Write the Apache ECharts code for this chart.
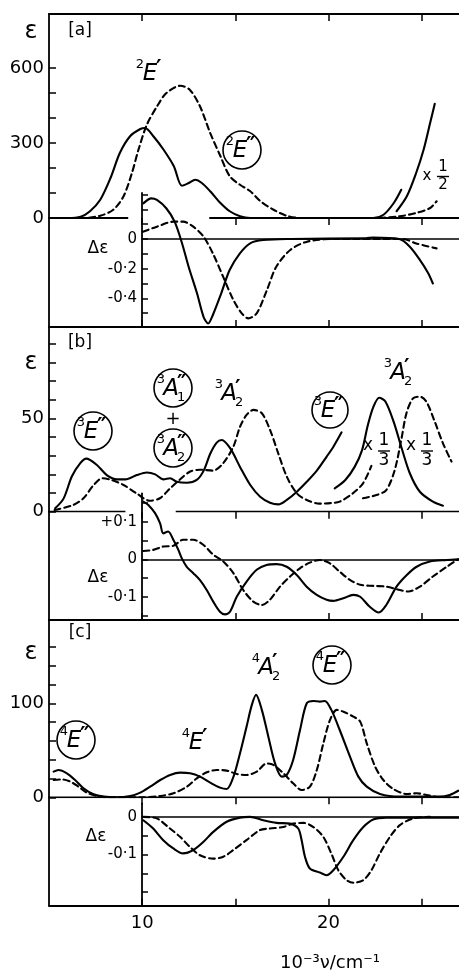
<!DOCTYPE html>
<html><head><meta charset="utf-8">
<script src="https://cdn.jsdelivr.net/npm/echarts@6/dist/echarts.min.js"></script>
<style>html,body{margin:0;padding:0;background:#fff}#c{width:459px;height:975px}</style>
</head><body><div id="c"></div>
<script>
// ---------- DATA (x in 10^3 cm^-1) ----------
const xTicks = [10, 15, 20, 25];
const xLabels = [10, 20];

// Panel a
const aEpsTicks = [0, 100, 200, 300, 400, 500, 600];
const aEpsLabels = [0, 300, 600];
const aDeTicks = [0.3, 0.2, 0.1, 0, -0.1, -0.2, -0.3, -0.4, -0.5];
const aDeLabels = [0, -0.2, -0.4];
const aBaseline = [[5, 9.25], [13.6, 27]];
const aEpsSolid = [[5,0],[6,0],[6.7,5],[7.2,27],[7.75,73],[8.3,160],[8.8,260],[9.35,327],[9.9,356],[10.15,360],[10.6,327],[11.15,273],[11.7,207],[12.13,129],[12.5,140],[12.85,153],[13.2,140],[13.65,107],[14.2,60],[14.7,27],[15.25,7],[15.8,0],[22.4,0],[22.95,13],[23.5,60],[23.9,113]];
const aEpsSolidHalf = [[23.65,27],[24.2,87],[24.7,180],[25.1,273],[25.45,380],[25.7,457]];
const aEpsDashed = [[5,0],[6.85,0],[7.75,9],[8.45,33],[9.0,87],[9.45,180],[9.8,273],[10.25,373],[10.8,447],[11.3,500],[12.05,529],[12.55,513],[13.1,447],[13.65,340],[14.2,247],[14.7,167],[15.25,133],[15.8,107],[16.35,67],[17.05,33],[17.75,9],[18.5,0],[22.4,0],[23.8,7],[24.7,20],[25.45,40],[25.8,67]];
const aDeSolid = [[10.07,0.24],[10.5,0.274],[10.8,0.263],[11.3,0.207],[11.75,0.117],[12.15,-0.03],[12.5,-0.187],[12.95,-0.366],[13.3,-0.524],[13.55,-0.569],[13.8,-0.512],[14.25,-0.366],[14.7,-0.209],[15.25,-0.097],[15.8,-0.029],[16.5,-0.007],[18,0],[22,0.005],[22.4,0.01],[23.8,0],[24.35,-0.05],[24.9,-0.14],[25.35,-0.23],[25.6,-0.3]];
const aDeDashed = [[10.05,0.049],[10.8,0.083],[11.7,0.117],[12.2,0.117],[12.75,0.083],[13.3,0.016],[13.8,-0.097],[14.35,-0.254],[14.9,-0.411],[15.35,-0.501],[15.7,-0.535],[16.15,-0.501],[16.7,-0.344],[17.2,-0.187],[17.95,-0.074],[18.85,-0.018],[20.25,0],[24,0],[24.7,-0.03],[25.8,-0.063]];

// Panel b
const bEpsTicks = [0, 10, 20, 30, 40, 50, 60, 70, 80, 90];
const bEpsLabels = [0, 50];
const bDeTicks = [0.15, 0.1, 0.05, 0, -0.05, -0.1, -0.15];
const bDeLabels = [0.1, 0, -0.1];
const bBaseline = [[5, 9.1], [11.8, 27]];
const bEpsSolid = [[5.33,1.8],[5.78,7],[6.23,19],[6.68,26],[7.0,28.4],[7.57,25],[8.1,19.6],[8.64,17.3],[9.1,17.3],[9.71,19.6],[10.25,21],[10.7,20],[11.14,17.3],[11.5,17.9],[11.86,16],[12.4,15.5],[12.93,17],[13.3,22],[13.65,31],[14.0,37],[14.27,38.4],[14.72,34],[15.25,24],[15.8,14.3],[16.33,8],[16.86,4.8],[17.31,3.9],[17.76,6.3],[18.3,10.7],[18.83,16],[19.37,22],[19.9,29.5],[20.26,34.8],[20.7,42.5]];
const bEpsSolidThird = [[20.33,12.5],[20.9,17],[21.4,24],[21.8,33],[22.1,46],[22.4,56],[22.72,61],[23.05,59],[23.5,48],[23.9,34.8],[24.36,20.6],[24.9,10.7],[25.6,5.4],[26.14,3.2]];
const bEpsDashed = [[5.3,0.9],[6.3,3.6],[6.85,7.2],[7.4,14.3],[7.85,17.9],[8.35,17],[9.0,14.3],[9.7,9.8],[10.4,5.9],[10.95,7.2],[11.5,12.5],[12.0,17],[12.55,21.4],[13.1,22.5],[13.8,22],[14.35,26],[14.9,35],[15.25,45.5],[15.6,51.8],[15.97,54.5],[16.42,52.7],[16.86,43.8],[17.31,31],[17.76,18.75],[18.3,9.8],[18.83,6.3],[19.5,4.3],[20.1,4.6],[20.6,5.4],[21.3,9.8],[21.85,15.2],[22.3,24.5]];
const bEpsDashedThird = [[21.85,7.2],[22.57,8.9],[23.1,11.6],[23.55,22.3],[23.9,38.4],[24.18,52.7],[24.53,60.7],[24.9,61.6],[25.25,58.9],[25.7,48.2],[26.14,36.6],[26.6,26.8]];
const bDeSolid = [[10.07,0.154],[10.34,0.145],[10.7,0.123],[10.97,0.096],[11.14,0.069],[11.4,0.074],[11.68,0.052],[11.95,0.025],[12.13,0.003],[12.4,-0.02],[12.75,-0.037],[13.1,-0.055],[13.47,-0.082],[13.82,-0.113],[14.18,-0.14],[14.45,-0.147],[14.72,-0.14],[15.08,-0.1],[15.6,-0.06],[16.15,-0.028],[16.68,-0.015],[17.22,-0.013],[17.76,-0.02],[18.3,-0.042],[18.83,-0.073],[19.37,-0.095],[19.9,-0.108],[20.26,-0.111],[20.8,-0.104],[21.33,-0.095],[21.7,-0.1],[22.2,-0.126],[22.7,-0.142],[23.1,-0.122],[23.65,-0.073],[24.2,-0.042],[24.73,-0.02],[25.44,-0.006],[26.34,-0.002],[26.96,0]];
const bDeDashed = [[10.07,0.022],[10.6,0.025],[11.14,0.034],[11.68,0.036],[12.2,0.052],[12.75,0.052],[13.3,0.038],[13.82,0.012],[14.36,-0.006],[14.9,-0.037],[15.43,-0.082],[15.97,-0.113],[16.42,-0.122],[16.86,-0.108],[17.4,-0.073],[17.94,-0.046],[18.47,-0.024],[19.0,-0.009],[19.54,-0.002],[20.08,-0.011],[20.6,-0.033],[21.15,-0.055],[21.7,-0.068],[22.4,-0.071],[23.1,-0.073],[23.83,-0.082],[24.28,-0.086],[24.9,-0.073],[25.6,-0.046],[26.34,-0.02],[26.96,0]];

// Panel c
const cEpsTicks = [0, 20, 40, 60, 80, 100, 120, 140, 160];
const cEpsLabels = [0, 100];
const cDeTicks = [0, -0.05, -0.1, -0.15, -0.2];
const cDeLabels = [0, -0.1];
const cBaseline = [[5, 27]];
const cEpsSolid = [[5.25,27.3],[5.51,29],[5.96,25.5],[6.4,18.4],[6.85,9.6],[7.39,3.2],[7.93,0.7],[8.64,0],[9.36,1.4],[9.9,5],[10.43,11.3],[10.97,18.4],[11.5,23.8],[12.04,26.2],[12.57,25.5],[13.1,22],[13.65,15.6],[14.18,10.3],[14.54,8.9],[14.9,22],[15.25,46.8],[15.6,75],[15.88,98],[16.11,108.9],[16.42,93],[16.77,64.5],[17.13,36],[17.49,22],[17.76,23.8],[18.1,39.7],[18.47,71.6],[18.83,100],[19.19,102.5],[19.54,101.8],[19.8,102.5],[20.15,93],[20.6,71.6],[21.15,43.3],[21.6,22],[22.05,11.3],[22.76,3.5],[23.83,0.7],[24.9,0.7],[25.97,0.7],[26.5,2.5],[26.96,7]];
const cEpsDashed = [[5.25,18.4],[5.7,19],[6.14,16.7],[6.59,11.3],[7.03,5],[7.57,1.4],[8.28,0],[9.9,0],[10.97,1.4],[11.68,4.3],[12.4,11.3],[12.93,20.2],[13.47,26.6],[14.0,29],[14.54,28.4],[15.08,24.8],[15.6,23.8],[16.15,27.3],[16.68,36],[17.04,34.4],[17.58,25.5],[18.1,14.9],[18.56,7.8],[19.0,11.3],[19.37,29],[19.72,57.4],[20.08,82.3],[20.44,93],[20.8,91],[21.33,85.8],[21.7,80.5],[22.05,57.4],[22.5,32.6],[22.94,18.4],[23.47,8.9],[24.2,3.5],[24.73,4.3],[25.26,2.5],[25.97,0],[26.96,0]];
const cDeSolid = [[10.07,-0.009],[10.6,-0.031],[11.14,-0.062],[11.68,-0.084],[12.2,-0.097],[12.75,-0.088],[13.3,-0.066],[13.82,-0.04],[14.54,-0.013],[15.25,-0.002],[15.8,0],[16.5,-0.009],[17.22,-0.016],[17.94,-0.018],[18.38,-0.031],[18.56,-0.062],[18.74,-0.106],[19.0,-0.137],[19.54,-0.148],[19.9,-0.155],[20.26,-0.142],[20.8,-0.106],[21.33,-0.062],[21.87,-0.027],[22.4,-0.007],[23.1,-0.002],[26.96,-0.002]];
const cDeDashed = [[10.07,0],[10.79,-0.004],[11.5,-0.031],[12.04,-0.053],[12.57,-0.08],[13.11,-0.102],[13.82,-0.111],[14.36,-0.106],[14.9,-0.088],[15.6,-0.062],[16.33,-0.035],[16.86,-0.031],[17.58,-0.027],[18.1,-0.018],[18.65,-0.016],[19.19,-0.027],[19.72,-0.053],[20.15,-0.097],[20.53,-0.142],[20.97,-0.168],[21.33,-0.175],[21.87,-0.168],[22.3,-0.142],[22.76,-0.097],[23.3,-0.053],[23.83,-0.022],[24.55,-0.004],[25.44,0]];

// ---------- LAYOUT ----------
const FONT = '"DejaVu Sans", "Liberation Sans", sans-serif';
const LEFT = 49, DE_LEFT = 142, WIDTH = 410, DE_WIDTH = 317;
const X_MIN = 5, X_MAX = 27, DE_X_MIN = 10;
const panels = [
  {top:14, zero:218, bottom:327, epsMax:816, deTop:193, deMin:-0.593, deMax:0.31, topTicks:true, showX:false,
   epsTicks:aEpsTicks, epsLabels:aEpsLabels, deTicks:aDeTicks, deLabels:aDeLabels, base:aBaseline,
   eps:[[aEpsSolid,'solid'],[aEpsSolidHalf,'solid'],[aEpsDashed,'dashed']], de:[[aDeSolid,'solid'],[aDeDashed,'dashed']]},
  {top:327, zero:511.7, bottom:620, epsMax:98.9, deTop:493.3, deMin:-0.162, deMax:0.176, topTicks:false, showX:false,
   epsTicks:bEpsTicks, epsLabels:bEpsLabels, deTicks:bDeTicks, deLabels:bDeLabels, base:bBaseline,
   eps:[[bEpsSolid,'solid'],[bEpsSolidThird,'solid'],[bEpsDashed,'dashed'],[bEpsDashedThird,'dashed']], de:[[bDeSolid,'solid'],[bDeDashed,'dashed']]},
  {top:620, zero:797.3, bottom:905.7, epsMax:188.6, deTop:803.3, deMin:-0.236, deMax:0.036, topTicks:false, showX:true,
   epsTicks:cEpsTicks, epsLabels:cEpsLabels, deTicks:cDeTicks, deLabels:cDeLabels, base:cBaseline,
   eps:[[cEpsSolid,'solid'],[cEpsDashed,'dashed']], de:[[cDeSolid,'solid'],[cDeDashed,'dashed']]}
];

const grid = [], xAxis = [], yAxis = [], series = [];
const black = '#000';
const lineW = 1.8;
function deFmt(v){ if (Math.abs(v) < 1e-9) return '0'; return (v > 0 ? '+' : '-') + Math.abs(v).toFixed(1).replace('.', '\u00b7'); }
function curve(data, type, xi, yi){
  return {type:'line', data, xAxisIndex:xi, yAxisIndex:yi, showSymbol:false, symbol:'none',
    smooth:0.3, silent:true, z:3,
    lineStyle:{color:black, width:2.1, type: type === 'dashed' ? [6,4] : 'solid', cap:'round', join:'round'}};
}

panels.forEach(p => {
  const gE = grid.length;
  grid.push({left:LEFT, width:WIDTH, top:p.top, height:p.zero - p.top});
  xAxis.push({type:'value', gridIndex:gE, position:'top', min:X_MIN, max:X_MAX,
    axisLine:{show:true, onZero:false, lineStyle:{color:black, width:lineW}},
    axisTick:{show:p.topTicks, inside:true, length:7, customValues:xTicks, lineStyle:{color:black, width:1.5}},
    axisLabel:{show:false}, splitLine:{show:false}});
  const xBot = xAxis.length;
  xAxis.push({type:'value', gridIndex:gE, position:'bottom', min:X_MIN, max:X_MAX,
    axisLine:{show:false, onZero:false},
    axisTick:{show:true, inside:false, length:7, customValues:xTicks, lineStyle:{color:black, width:1.5}},
    axisLabel:{show:false}, splitLine:{show:false}});
  const yE = yAxis.length;
  yAxis.push({type:'value', gridIndex:gE, min:0, max:p.epsMax,
    axisLine:{show:true, onZero:false, lineStyle:{color:black, width:lineW}},
    axisTick:{show:true, inside:true, length:7, customValues:p.epsTicks, lineStyle:{color:black, width:1.5}},
    axisLabel:{show:true, customValues:p.epsLabels, color:black, fontSize:18, fontFamily:FONT, margin:5},
    splitLine:{show:false}});
  p.base.forEach(seg => series.push({type:'line', data:[[seg[0],0],[seg[1],0]], xAxisIndex:xBot, yAxisIndex:yE,
    showSymbol:false, symbol:'none', silent:true, z:2, lineStyle:{color:black, width:lineW}}));
  p.eps.forEach(c => series.push(curve(c[0], c[1], xBot, yE)));

  const gF = grid.length;
  grid.push({left:LEFT, width:WIDTH, top:p.zero, height:p.bottom - p.zero});
  xAxis.push({type:'value', gridIndex:gF, position:'bottom', min:X_MIN, max:X_MAX,
    axisLine:{show:true, onZero:false, lineStyle:{color:black, width:lineW}},
    axisTick:{show:true, inside:true, length:7, customValues:xTicks, lineStyle:{color:black, width:1.5}},
    axisLabel:{show:p.showX, customValues:xLabels, color:black, fontSize:18, fontFamily:FONT, margin:9},
    splitLine:{show:false}});
  yAxis.push({type:'value', gridIndex:gF, min:0, max:1,
    axisLine:{show:true, onZero:false, lineStyle:{color:black, width:lineW}},
    axisTick:{show:false}, axisLabel:{show:false}, splitLine:{show:false}});

  const gD = grid.length;
  grid.push({left:DE_LEFT, width:DE_WIDTH, top:p.deTop, height:p.bottom - p.deTop});
  const xD = xAxis.length;
  xAxis.push({type:'value', gridIndex:gD, position:'bottom', min:DE_X_MIN, max:X_MAX,
    axisLine:{show:true, onZero:true, lineStyle:{color:black, width:1.5}},
    axisTick:{show:false}, axisLabel:{show:false}, splitLine:{show:false}});
  const yD = yAxis.length;
  yAxis.push({type:'value', gridIndex:gD, min:p.deMin, max:p.deMax,
    axisLine:{show:true, onZero:false, lineStyle:{color:black, width:lineW}},
    axisTick:{show:true, inside:true, length:6, customValues:p.deTicks, lineStyle:{color:black, width:1.5}},
    axisLabel:{show:true, customValues:p.deLabels, formatter:deFmt, color:black, fontSize:15, fontFamily:FONT, margin:5},
    splitLine:{show:false}});
  p.de.forEach(c => series.push(curve(c[0], c[1], xD, yD)));
});

// ---------- ANNOTATIONS ----------
const G = [];
function txt(x, y, text, font, align){
  return {type:'text', x, y, z:100, silent:true,
    style:{text, x:0, y:0, font, fill:black, align:align||'center', verticalAlign:'middle',
      textAlign:align||'center', textVerticalAlign:'middle'}};
}
function circle(cx, cy, r){
  return {type:'circle', z:100, silent:true, shape:{cx, cy, r}, style:{fill:'none', stroke:black, lineWidth:1.6}};
}
function bar(x1, x2, y){
  return {type:'line', z:100, silent:true, shape:{x1, y1:y, x2, y2:y}, style:{stroke:black, lineWidth:1.4}};
}
function term(cx, cy, mult, letter, prime, sub, r){
  G.push(txt(cx, cy + 1, letter, 'italic 23px ' + FONT));
  G.push(txt(cx - 6, cy - 8, mult, '13px ' + FONT, 'right'));
  if (prime) G.push(txt(cx + 6, cy - 3, prime, 'bold 21px "DejaVu Sans"', 'left'));
  if (sub) G.push(txt(cx + 6, cy + 10, sub, '13px ' + FONT, 'left'));
  if (r) G.push(circle(cx + 2, cy, r));
}
function frac(x, y, num, den, size, barY, gap){
  G.push(txt(x, y, 'x', size + 'px ' + FONT));
  const fx = x + 16;
  G.push(txt(fx, barY - gap, num, size + 'px ' + FONT));
  G.push(bar(fx - 6, fx + 6, barY));
  G.push(txt(fx, barY + gap, den, size + 'px ' + FONT));
}

// panel a
G.push(txt(80, 31, '[a]', '17px ' + FONT));
G.push(txt(31, 32, '\u03b5', '24px ' + FONT));
G.push(txt(98, 249, '\u0394\u03b5', '17px ' + FONT));
term(150, 73, '2', 'E', '\u2032', null, 0);
term(240, 150, '2', 'E', '\u2033', null, 19);
frac(427, 176, '1', '2', 15, 176.5, 9);
// panel b
G.push(txt(80, 343, '[b]', '17px ' + FONT));
G.push(txt(31, 363, '\u03b5', '24px ' + FONT));
G.push(txt(98, 578, '\u0394\u03b5', '17px ' + FONT));
term(91, 431, '3', 'E', '\u2033', null, 19);
term(171, 388, '3', 'A', '\u2033', '1', 19);
G.push(txt(173, 419, '+', '18px ' + FONT));
term(171, 448, '3', 'A', '\u2033', '2', 19);
term(229, 393, '3', 'A', '\u2032', '2', 0);
term(328, 410, '3', 'E', '\u2033', null, 18);
term(398, 372, '3', 'A', '\u2032', '2', 0);
frac(368, 446, '1', '3', 17, 451, 10);
frac(411, 446, '1', '3', 17, 451, 10);
// panel c
G.push(txt(80, 633, '[c]', '17px ' + FONT));
G.push(txt(31, 653, '\u03b5', '24px ' + FONT));
G.push(txt(96, 837, '\u0394\u03b5', '17px ' + FONT));
term(74, 740, '4', 'E', '\u2033', null, 19);
term(196, 742, '4', 'E', '\u2032', null, 0);
term(266, 667, '4', 'A', '\u2032', '2', 0);
term(330, 665, '4', 'E', '\u2033', null, 19);
// axis title
G.push(txt(330, 963, '10\u207b\u00b3\u03bd/cm\u207b\u00b9', '18px ' + FONT));

const chart = echarts.init(document.getElementById('c'), null, {renderer:'canvas'});
chart.setOption({animation:false, backgroundColor:'#fff', grid, xAxis, yAxis, series, graphic:G});
</script></body></html>
